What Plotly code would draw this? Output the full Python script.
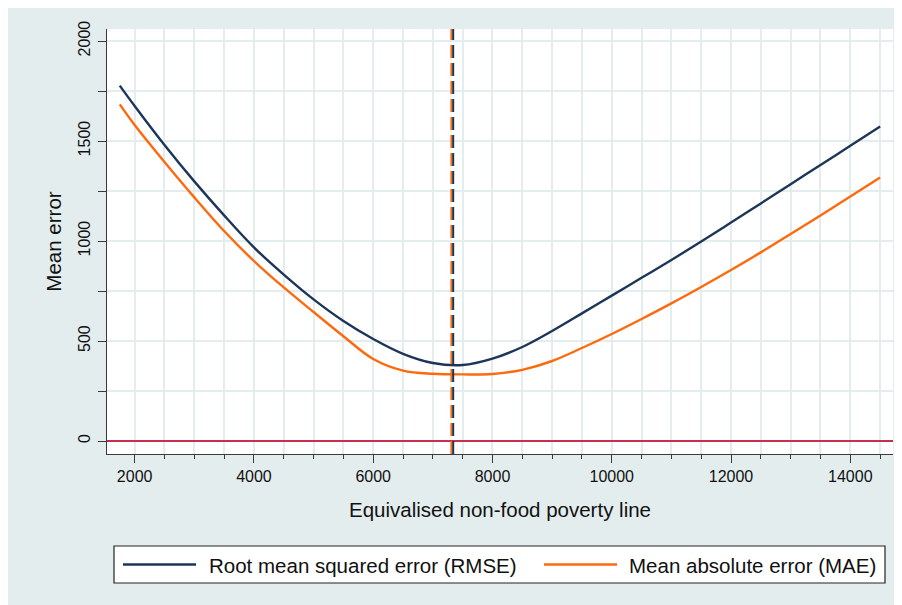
import plotly.graph_objects as go

# ---- data ----
poverty_line = [1750, 2000, 2500, 3000, 3500, 4000, 4500, 5000, 5500, 6000, 6500, 7000,
                7500, 8000, 8500, 9000, 9500, 10000, 10500, 11000, 11500, 12000, 12500, 13000,
                13500, 14000, 14500]
rmse = [1777, 1675, 1480, 1298, 1128, 968, 832, 708, 600, 510, 436, 390,
        380, 412, 470, 550, 638, 727, 816, 905, 997, 1092, 1188, 1284,
        1380, 1476, 1572]
mae = [1683, 1580, 1395, 1218, 1050, 900, 768, 645, 524, 410, 352, 336,
       333, 335, 356, 400, 465, 535, 610, 688, 770, 855, 943, 1035,
       1128, 1222, 1317]
rmse_min_x = 7341
mae_min_x = 7311
x_range = [1536, 14716]
y_range = [-65, 2060]
x_ticks = [2000, 4000, 6000, 8000, 10000, 12000, 14000]
x_tick_labels = ["2000", "4000", "6000", "8000", "10000", "12000", "14000"]
y_ticks = [0, 500, 1000, 1500, 2000]
y_tick_labels = ["0", "500", "1000", "1500", "2000"]
series_names = ["Root mean squared error (RMSE)", "Mean absolute error (MAE)"]
x_title = "Equivalised non-food poverty line"
y_title = "Mean error"

# ---- styling ----
NAVY = "#1c3657"
ORANGE = "#fd6a0d"
RED = "#c6304c"
BG = "#e4edee"
GRID = "#e4edee"
AXIS = "#3a3a3a"
FONT = "Liberation Sans, Arial, Helvetica, sans-serif"

W, H = 894, 597
L, T = 99, 21
PLOT_R, PLOT_B = 885, 446
R, B = W - PLOT_R, H - PLOT_B
PW, PH = PLOT_R - L, PLOT_B - T


def px_x(px):
    return (px - L) / PW


def px_y(py):
    return (PLOT_B - py) / PH


fig = go.Figure()

fig.add_trace(go.Scatter(x=poverty_line, y=rmse, mode="lines", name=series_names[0],
                         line=dict(color=NAVY, width=2.4, shape="spline", smoothing=1.0),
                         showlegend=False))
fig.add_trace(go.Scatter(x=poverty_line, y=mae, mode="lines", name=series_names[1],
                         line=dict(color=ORANGE, width=2.4, shape="spline", smoothing=1.0),
                         showlegend=False))
# vertical dashed lines at the minima
fig.add_trace(go.Scatter(x=[mae_min_x, mae_min_x], y=y_range, mode="lines",
                         line=dict(color=ORANGE, width=2, dash="13px,5px"), showlegend=False,
                         hoverinfo="skip"))
fig.add_trace(go.Scatter(x=[rmse_min_x, rmse_min_x], y=y_range, mode="lines",
                         line=dict(color=NAVY, width=2, dash="13px,5px"), showlegend=False,
                         hoverinfo="skip"))

shapes = [
    # legend box
    dict(type="rect", xref="paper", yref="paper", x0=px_x(106), x1=px_x(877),
         y0=px_y(575), y1=px_y(538), fillcolor="white", line=dict(color="#222", width=1.2)),
    dict(type="line", xref="paper", yref="paper", x0=px_x(115), x1=px_x(188),
         y0=px_y(556.5), y1=px_y(556.5), line=dict(color=NAVY, width=2.4)),
    dict(type="line", xref="paper", yref="paper", x0=px_x(536), x1=px_x(609),
         y0=px_y(556.5), y1=px_y(556.5), line=dict(color=ORANGE, width=2.4)),
]

annotations = [
    dict(text=series_names[0], xref="paper", yref="paper", x=px_x(199), y=px_y(557),
         xanchor="left", yanchor="middle", showarrow=False,
         font=dict(family=FONT, size=20.5, color="#111")),
    dict(text=series_names[1], xref="paper", yref="paper", x=px_x(619), y=px_y(557),
         xanchor="left", yanchor="middle", showarrow=False,
         font=dict(family=FONT, size=20.5, color="#111")),
]

fig.update_layout(
    width=W, height=H,
    margin=dict(l=L, r=R, t=T, b=B),
    paper_bgcolor=BG, plot_bgcolor="white",
    font=dict(family=FONT, color="#111"),
    shapes=shapes, annotations=annotations,
    showlegend=False,
)

fig.update_xaxes(
    range=x_range, tickvals=x_ticks, ticktext=x_tick_labels,
    ticks="outside", ticklen=8, tickwidth=1, tickcolor=AXIS,
    showline=True, linecolor=AXIS, linewidth=1.2, mirror=False,
    showgrid=True, gridcolor=GRID, gridwidth=1.5, zeroline=False,
    minor=dict(dtick=500, tick0=0, ticks="outside", ticklen=4, tickcolor=AXIS,
               showgrid=True, gridcolor=GRID, gridwidth=1.5),
    tickfont=dict(family=FONT, size=16, color="#111"),
    title=dict(text=x_title, font=dict(family=FONT, size=20.5, color="#111"), standoff=18),
)
fig.update_yaxes(
    range=y_range, tickvals=y_ticks, ticktext=y_tick_labels,
    ticks="outside", ticklen=8, tickwidth=1, tickcolor=AXIS,
    tickangle=-90, ticklabelstandoff=2,
    showline=True, linecolor=AXIS, linewidth=1.2, mirror=False,
    showgrid=True, gridcolor=GRID, gridwidth=1.5,
    zeroline=True, zerolinecolor=RED, zerolinewidth=2.2,
    minor=dict(dtick=250, tick0=0, ticks="outside", ticklen=8, tickcolor=AXIS,
               showgrid=True, gridcolor=GRID, gridwidth=1.5),
    tickfont=dict(family=FONT, size=16, color="#111"),
    title=dict(text=y_title, font=dict(family=FONT, size=20.5, color="#111"), standoff=8),
)

fig.write_html("out.html")
